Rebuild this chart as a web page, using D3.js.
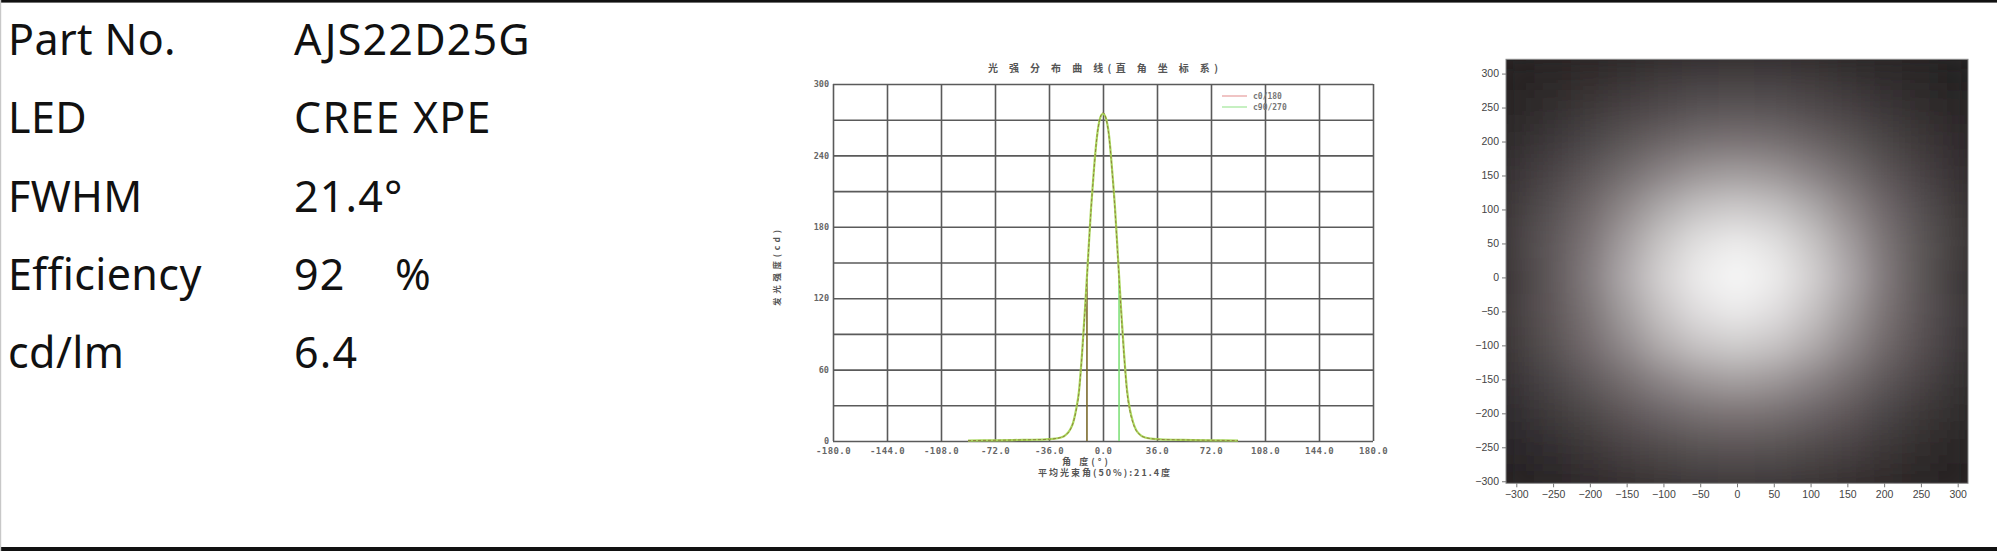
<!DOCTYPE html>
<html><head><meta charset="utf-8">
<script src="https://cdn.jsdelivr.net/npm/d3@7"></script>
<style>
html,body{margin:0;padding:0;background:#fff;}
svg{display:block;}
</style></head>
<body>
<svg id="chart" width="1997" height="551"></svg>
<script>
// ---------- data ----------
const specLabels = ["Part No.", "LED", "FWHM", "Efficiency", "cd/lm"];
const specValues = ["AJS22D25G", "CREE XPE", "21.4°", "92    %", "6.4"];

const angles   = [-90,-80,-72,-60,-50,-40,-36,-32,-28,-26,-24,-22,-20,-18,-16,-14,-12,-10,-8,-6,-4,-2,0,2,4,6,8,10,12,14,16,18,20,22,24,26,28,32,36,40,50,60,72,80,90];
const c0_180   = [0.3,0.5,0.6,0.8,1.0,1.2,1.5,2.0,3.0,4.0,6.0,9.0,15,25,41,72,110,152,194,228,256,271,276,271,256,228,194,152,110,72,41,25,15,9.0,6.0,4.0,3.0,2.0,1.5,1.2,1.0,0.8,0.6,0.5,0.3];
const c90_270  = [0.3,0.5,0.6,0.8,1.0,1.2,1.5,2.0,3.0,4.0,6.0,9.5,15,26,42,73,111,153,195,229,256,271,275,271,257,229,196,154,112,74,43,26,16,9.5,6.0,4.0,3.0,2.0,1.5,1.2,1.0,0.8,0.6,0.5,0.3];
const fwhmAngles = [-10.7, 10.7];
const xTicks = [-180,-144,-108,-72,-36,0,36,72,108,144,180];
const yGrid  = [0,30,60,90,120,150,180,210,240,270,300];
const yLabels = [0,60,120,180,240,300];
const seriesNames = ["c0/180", "c90/270"];

const heatX = [-300,-250,-200,-150,-100,-50,0,50,100,150,200,250,300];
const heatY = [300,250,200,150,100,50,0,-50,-100,-150,-200,-250,-300];
const heatValues = [
  [40,45,51,58,65,69,71,69,65,58,50,44,38],
  [46,54,65,77,87,95,97,95,87,77,64,53,44],
  [54,67,83,101,117,129,133,129,117,101,82,65,52],
  [63,81,104,129,151,167,173,167,151,129,102,79,60],
  [71,95,124,155,184,204,211,204,184,155,122,93,68],
  [78,104,138,174,207,230,239,230,207,174,136,101,75],
  [72,104,144,183,217,240,250,240,217,183,142,101,68],
  [77,103,137,173,206,229,238,229,206,173,135,100,73],
  [72,96,126,157,186,206,213,206,186,157,124,94,69],
  [64,83,106,131,153,169,175,169,153,131,104,81,61],
  [55,68,85,103,119,131,135,131,119,103,83,66,53],
  [47,55,66,78,88,96,98,96,88,78,65,54,45],
  [41,46,52,59,66,70,72,70,66,59,51,45,39]
];
const heatTicks = [-300,-250,-200,-150,-100,-50,0,50,100,150,200,250,300];

// ---------- page ----------
const svg = d3.select("#chart");
svg.append("rect").attr("x",0).attr("y",0).attr("width",1997).attr("height",551).attr("fill","#fff");
svg.append("rect").attr("x",0).attr("y",0).attr("width",1997).attr("height",2.6).attr("fill","#111");
svg.append("rect").attr("x",0).attr("y",547).attr("width",1997).attr("height",4).attr("fill","#111");
svg.append("rect").attr("x",0).attr("y",0).attr("width",1.2).attr("height",551).attr("fill","#c8c8c8");

// ---------- spec table ----------
const spec = svg.append("g").attr("font-family","'Noto Sans','Open Sans',sans-serif").attr("font-size",43).attr("fill","#111");
spec.selectAll("text.lab").data(specLabels).join("text").attr("class","lab")
  .attr("x",8).attr("y",(d,i)=>55+i*78.3).attr("letter-spacing",0.4).text(d=>d);
spec.selectAll("text.val").data(specValues).join("text").attr("class","val")
  .attr("x",294).attr("y",(d,i)=>55+i*78.3).attr("letter-spacing",1.2).style("white-space","pre").text(d=>d);

// ---------- intensity distribution chart ----------
const lx = d3.scaleLinear().domain([-180,180]).range([833,1373]);
const ly = d3.scaleLinear().domain([0,300]).range([441,84]);
const gridColor = "#5a5a5a";
const mid = svg.append("g");

mid.append("g").attr("transform","translate(0,441)")
  .call(d3.axisBottom(lx).tickValues(xTicks).tickSize(-(441-84)).tickPadding(7).tickFormat(d=>d.toFixed(1)))
  .call(g=>{g.select(".domain").remove();
    g.selectAll("line").attr("stroke",gridColor).attr("stroke-width",1.6);
    g.selectAll("text").attr("fill","#666").attr("font-family","'DejaVu Sans Mono',monospace").attr("font-size",9).attr("font-weight","bold").attr("letter-spacing",0.4);});
mid.append("g").attr("transform","translate(833,0)")
  .call(d3.axisLeft(ly).tickValues(yGrid).tickSize(-(1373-833)).tickPadding(4).tickFormat(d=>yLabels.includes(d)?d:""))
  .call(g=>{g.select(".domain").remove();
    g.selectAll("line").attr("stroke",gridColor).attr("stroke-width",1.6);
    g.selectAll("text").attr("fill","#666").attr("font-family","'DejaVu Sans Mono',monospace").attr("font-size",8.5).attr("font-weight","bold");});

mid.append("text").attr("x",1103).attr("y",72).attr("text-anchor","middle")
  .attr("font-family","'Noto Sans CJK SC',sans-serif").attr("font-size",10).attr("font-weight","bold").attr("fill","#555")
  .attr("textLength",230).attr("lengthAdjust","spacing").text("光 强 分 布 曲 线(直 角 坐 标 系)");
mid.append("text").attr("transform","translate(780,268) rotate(-90)").attr("text-anchor","middle")
  .attr("font-family","'Noto Sans CJK SC',sans-serif").attr("font-size",8.5).attr("font-weight","bold").attr("fill","#555")
  .attr("textLength",76).attr("lengthAdjust","spacing").text("发光强度(cd)");
mid.append("text").attr("x",1085).attr("y",465).attr("text-anchor","middle")
  .attr("font-family","'Noto Sans CJK SC',sans-serif").attr("font-size",9).attr("font-weight","bold").attr("fill","#555")
  .attr("textLength",46).attr("lengthAdjust","spacing").text("角 度(°)");
mid.append("text").attr("x",1104).attr("y",476).attr("text-anchor","middle")
  .attr("font-family","'Noto Sans CJK SC',sans-serif").attr("font-size",9).attr("font-weight","bold").attr("fill","#555")
  .attr("textLength",132).attr("lengthAdjust","spacing").text("平均光束角(50%):21.4度");

const line = d3.line().x((d,i)=>lx(angles[i])).y(d=>ly(d)).curve(d3.curveMonotoneX);
const halfMax = d3.max(c0_180)/2;
mid.append("line").attr("x1",lx(fwhmAngles[0])).attr("x2",lx(fwhmAngles[0])).attr("y1",ly(0)).attr("y2",ly(halfMax))
  .attr("stroke","#7b6a2c").attr("stroke-width",1.6);
mid.append("line").attr("x1",lx(fwhmAngles[1])).attr("x2",lx(fwhmAngles[1])).attr("y1",ly(0)).attr("y2",ly(halfMax))
  .attr("stroke","#7fe07a").attr("stroke-width",1.6);
mid.append("path").attr("d",line(c90_270)).attr("fill","none").attr("stroke","#a9d85c").attr("stroke-width",2.2);
mid.append("path").attr("d",line(c0_180)).attr("fill","none").attr("stroke","#8a6a36").attr("stroke-width",1).attr("stroke-dasharray","3,2").attr("opacity",0.8);

// legend
const legColors = ["#e8a4a4","#a8e8a0"];
seriesNames.forEach((s,i)=>{
  const y = 96 + i*11;
  mid.append("line").attr("x1",1222).attr("x2",1247).attr("y1",y).attr("y2",y).attr("stroke",legColors[i]).attr("stroke-width",1.3);
  mid.append("text").attr("x",1253).attr("y",y+3).attr("font-family","'DejaVu Sans Mono',monospace").attr("font-size",8).attr("font-weight","bold").attr("fill","#777").text(s);
});

// ---------- illuminance map ----------
const hx = d3.scaleLinear().domain([-314,314]).range([1506,1968]);
const hy = d3.scaleLinear().domain([-303,321]).range([483.3,59.3]);
const gray = d3.scaleLinear().domain([32,140,250]).range(["#1f1b1c","#7f7779","#f8f8f8"]);

const defs = svg.append("defs");
defs.append("clipPath").attr("id","hclip").append("rect")
  .attr("x",hx(-314)).attr("y",hy(321)).attr("width",hx(314)-hx(-314)).attr("height",hy(-303)-hy(321));
defs.append("filter").attr("id","hblur").attr("x","-20%").attr("y","-20%").attr("width","140%").attr("height","140%")
  .append("feGaussianBlur").attr("stdDeviation",15);

const heat = svg.append("g").attr("clip-path","url(#hclip)");
heat.append("rect").attr("x",hx(-314)).attr("y",hy(321)).attr("width",hx(314)-hx(-314)).attr("height",hy(-303)-hy(321)).attr("fill",gray(42));
const cw = hx(50)-hx(0), ch = hy(0)-hy(50);
const cells = [];
heatY.forEach((yv,r)=>heatX.forEach((xv,c)=>cells.push({x:xv,y:yv,v:heatValues[r][c]})));
heat.append("g").attr("filter","url(#hblur)").selectAll("rect").data(cells).join("rect")
  .attr("x",d=>hx(d.x)-cw/2-0.5).attr("y",d=>hy(d.y)-ch/2-0.5).attr("width",cw+1).attr("height",ch+1)
  .attr("fill",d=>gray(d.v));
svg.append("rect").attr("x",hx(-314)).attr("y",hy(321)).attr("width",hx(314)-hx(-314)).attr("height",hy(-303)-hy(321))
  .attr("fill","none").attr("stroke","#8a8a8a").attr("stroke-width",1);

svg.append("g").attr("transform",`translate(0,${hy(-303)})`)
  .call(d3.axisBottom(hx).tickValues(heatTicks).tickSize(4).tickPadding(3))
  .call(g=>{g.select(".domain").remove();
    g.selectAll("line").attr("stroke","#777");
    g.selectAll("text").attr("fill","#444").attr("font-family","'Liberation Sans',Arial,sans-serif").attr("font-size",10.5);});
svg.append("g").attr("transform",`translate(${hx(-314)},0)`)
  .call(d3.axisLeft(hy).tickValues(heatTicks).tickSize(4).tickPadding(3))
  .call(g=>{g.select(".domain").remove();
    g.selectAll("line").attr("stroke","#777");
    g.selectAll("text").attr("fill","#444").attr("font-family","'Liberation Sans',Arial,sans-serif").attr("font-size",10.5);});
</script>
</body></html>
